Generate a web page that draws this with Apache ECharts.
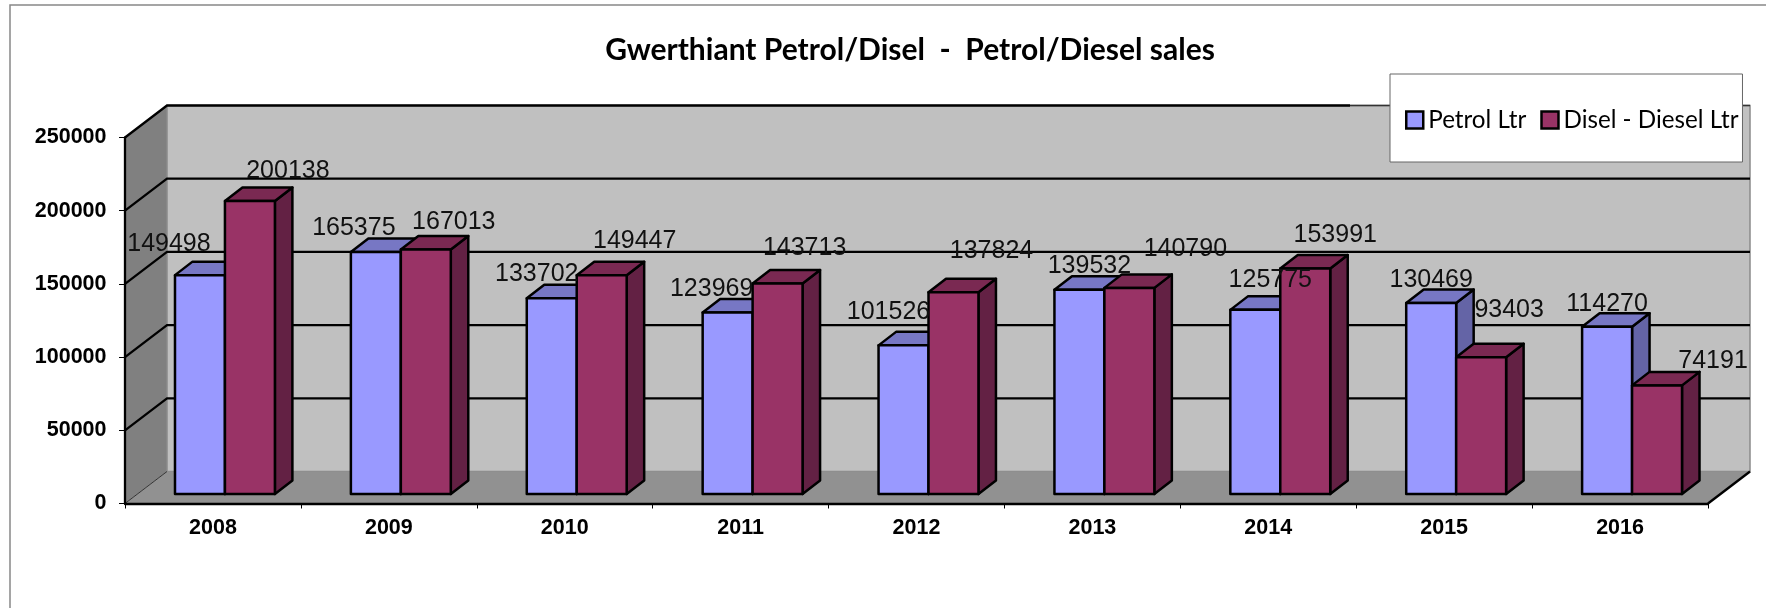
<!DOCTYPE html>
<html>
<head>
<meta charset="utf-8">
<style>
  html, body { margin: 0; padding: 0; background: #fff; }
  #chart { width: 1766px; height: 608px; }
</style>
<script src="https://cdn.jsdelivr.net/npm/echarts@6/dist/echarts.min.js"></script>
</head>
<body>
<div id="chart"></div>
<script>
const years = ['2008', '2009', '2010', '2011', '2012', '2013', '2014', '2015', '2016']
const petrol = [149498, 165375, 133702, 123969, 101526, 139532, 125775, 130469, 114270]
const diesel = [200138, 167013, 149447, 143713, 137824, 140790, 153991, 93403, 74191]
const yTicks = [0, 50000, 100000, 150000, 200000, 250000]

// the labels were dragged around by hand in the original, offset from top centre of each bar
const petrolLabelShift = [[-31, -31], [-22, -24], [-15, -24], [-16, -23], [-15, -33], [10, -24], [15, -30], [0, -23], [0, -23]]
const dieselLabelShift = [[38, -30], [28, -27], [33, -34], [27, -35], [38, -41], [56, -39], [30, -33], [28, -47], [56, -24]]

// fake 3d: depth of the chart box and of the bars
const WALL_DX = 42
const WALL_DY = 32
const BAR_DX = 17.5
const BAR_DY = 13.5
const FRONT_DX = 12
const FRONT_DY = 9.5
const BAR_RATIO = 0.284
// top edge of the back wall goes thin from here on in the original
const TOP_EDGE_END = 1350

const petrolColors = { front: '#9999ff', top: '#7777c4', side: '#6464a6' }
const dieselColors = { front: '#993366', top: '#7a2952', side: '#632144' }

function drawWalls (params, api) {
  const cs = params.coordSys
  const tick = api.value(0)
  const y = api.coord([0, tick])[1]
  const left = cs.x
  const right = cs.x + cs.width
  const bottom = cs.y + cs.height
  const top = cs.y
  const children = []
  if (tick === 0) {
    children.push({
      type: 'polygon',
      shape: { points: [[left, top], [left + WALL_DX, top - WALL_DY], [left + WALL_DX, bottom - WALL_DY], [left, bottom]] },
      style: { fill: '#808080' }
    }, {
      type: 'polygon',
      shape: { points: [[left + WALL_DX, top - WALL_DY], [right + WALL_DX, top - WALL_DY], [right + WALL_DX, bottom - WALL_DY], [left + WALL_DX, bottom - WALL_DY]] },
      style: { fill: '#c0c0c0', stroke: '#8a8a8a', lineWidth: 1.5 }
    }, {
      type: 'polygon',
      shape: { points: [[left, bottom], [right, bottom], [right + WALL_DX, bottom - WALL_DY], [left + WALL_DX, bottom - WALL_DY]] },
      style: { fill: '#919191' }
    }, {
      type: 'line',
      shape: { x1: right, y1: bottom, x2: right + WALL_DX, y2: bottom - WALL_DY },
      style: { stroke: '#000', lineWidth: 2.3 }
    }, {
      type: 'line',
      shape: { x1: left, y1: bottom, x2: left + WALL_DX, y2: bottom - WALL_DY },
      style: { stroke: '#333', lineWidth: 1 }
    })
  } else if (tick === yTicks[yTicks.length - 1]) {
    children.push({
      type: 'polyline',
      shape: { points: [[left, y], [left + WALL_DX, y - WALL_DY], [TOP_EDGE_END, y - WALL_DY]] },
      style: { fill: null, stroke: '#000', lineWidth: 2.3 }
    }, {
      type: 'line',
      shape: { x1: TOP_EDGE_END, y1: y - WALL_DY, x2: right + WALL_DX, y2: y - WALL_DY },
      style: { stroke: '#333', lineWidth: 1.5 }
    })
  } else {
    children.push({
      type: 'polyline',
      shape: { points: [[left, y], [left + WALL_DX, y - WALL_DY], [right + WALL_DX, y - WALL_DY]] },
      style: { fill: null, stroke: '#000', lineWidth: 2.3 }
    })
  }
  return { type: 'group', children }
}

function barBox (type, colors) {
  return function (params, api) {
    const idx = api.value(0)
    const p = api.coord([idx, api.value(1)])
    const base = api.coord([idx, 0])
    const w = api.size([1, 0])[0] * BAR_RATIO
    const x0 = (type === 'petrol' ? p[0] - w : p[0]) + FRONT_DX
    const x1 = x0 + w
    const yTop = p[1] - FRONT_DY
    const yBase = base[1] - FRONT_DY
    const line = { stroke: '#000', lineWidth: 2.5, lineJoin: 'round' }
    return {
      type: 'group',
      children: [{
        type: 'polygon',
        shape: { points: [[x1, yTop], [x1 + BAR_DX, yTop - BAR_DY], [x1 + BAR_DX, yBase - BAR_DY], [x1, yBase]] },
        style: Object.assign({ fill: colors.side }, line)
      }, {
        type: 'polygon',
        shape: { points: [[x0, yTop], [x0 + BAR_DX, yTop - BAR_DY], [x1 + BAR_DX, yTop - BAR_DY], [x1, yTop]] },
        style: Object.assign({ fill: colors.top }, line)
      }, {
        type: 'rect',
        shape: { x: x0, y: yTop, width: w, height: yBase - yTop },
        style: Object.assign({ fill: colors.front }, line)
      }]
    }
  }
}

function barLabel (type, shifts) {
  return function (params, api) {
    const idx = api.value(0)
    const p = api.coord([idx, api.value(1)])
    const w = api.size([1, 0])[0] * BAR_RATIO
    const cx = (type === 'petrol' ? p[0] - w / 2 : p[0] + w / 2) + FRONT_DX
    const s = shifts[idx]
    return {
      type: 'text',
      x: cx + s[0],
      y: p[1] - FRONT_DY + s[1],
      style: {
        text: String(api.value(1)),
        fill: '#111',
        font: '25px "Liberation Sans"',
        textAlign: 'center',
        textVerticalAlign: 'middle'
      }
    }
  }
}

function rows (values) {
  return values.map((v, i) => [i, v])
}

const chart = echarts.init(document.getElementById('chart'))
chart.setOption({
  animation: false,
  backgroundColor: '#fff',
  title: {
    text: 'Gwerthiant Petrol/Disel  -  Petrol/Diesel sales',
    left: 905,
    top: 30,
    textAlign: 'center',
    textStyle: { fontFamily: 'Lato', fontWeight: 'bold', fontSize: 30, color: '#000' }
  },
  legend: {
    left: 1390,
    top: 74,
    data: ['Petrol Ltr', 'Disel - Diesel Ltr'],
    padding: [34, 4, 30, 15],
    itemGap: 14,
    itemWidth: 17,
    itemHeight: 17,
    icon: 'rect',
    backgroundColor: '#fff',
    borderColor: '#666',
    borderWidth: 1,
    z: 10,
    itemStyle: { borderColor: '#000', borderWidth: 2.5 },
    textStyle: { fontFamily: 'Lato', fontSize: 24.2, color: '#000' }
  },
  grid: { left: 125, top: 137.5, width: 1583, height: 366 },
  xAxis: {
    type: 'category',
    data: years,
    z: 3,
    axisLine: { lineStyle: { color: '#000', width: 2.3 } },
    axisTick: { show: true, alignWithLabel: false, length: 5, lineStyle: { color: '#000', width: 1 } },
    axisLabel: { margin: 14, color: '#000', fontFamily: 'Liberation Sans', fontWeight: 'bold', fontSize: 21.5 }
  },
  yAxis: {
    type: 'value',
    min: 0,
    max: 250000,
    interval: 50000,
    z: 3,
    axisLine: { show: true, lineStyle: { color: '#000', width: 2.3 } },
    axisTick: { show: true, length: 6, lineStyle: { color: '#000', width: 1 } },
    axisLabel: { margin: 18.5, color: '#000', fontFamily: 'Liberation Sans', fontWeight: 'bold', fontSize: 21.5, formatter: v => String(v) },
    splitLine: { show: false }
  },
  series: [
    { name: 'walls', type: 'custom', z: 1, silent: true, clip: false, data: yTicks.map(v => [v]), encode: { y: 0 }, renderItem: drawWalls },
    { name: 'Petrol Ltr', type: 'custom', z: 4, clip: false, itemStyle: { color: petrolColors.front }, data: rows(petrol), encode: { x: 0, y: 1 }, renderItem: barBox('petrol', petrolColors) },
    { name: 'Disel - Diesel Ltr', type: 'custom', z: 5, clip: false, itemStyle: { color: dieselColors.front }, data: rows(diesel), encode: { x: 0, y: 1 }, renderItem: barBox('diesel', dieselColors) },
    { name: 'petrol labels', type: 'custom', z: 6, clip: false, silent: true, data: rows(petrol), encode: { x: 0, y: 1 }, renderItem: barLabel('petrol', petrolLabelShift) },
    { name: 'diesel labels', type: 'custom', z: 6, clip: false, silent: true, data: rows(diesel), encode: { x: 0, y: 1 }, renderItem: barLabel('diesel', dieselLabelShift) }
  ],
  graphic: [{
    // chart area frame, runs off the right and the bottom of the picture
    type: 'polyline',
    shape: { points: [[10, 608], [10, 5], [1766, 5]] },
    style: { fill: null, stroke: '#888', lineWidth: 1.5 }
  }]
})
</script>
</body>
</html>
